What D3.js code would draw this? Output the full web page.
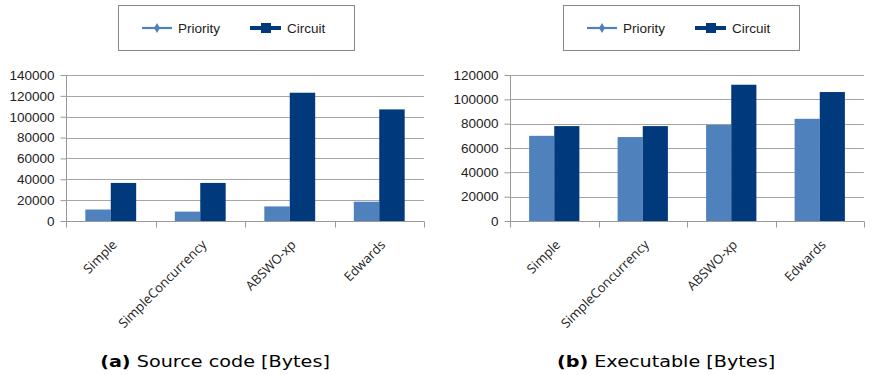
<!DOCTYPE html>
<html><head><meta charset="utf-8">
<script src="https://cdn.jsdelivr.net/npm/d3@7"></script>
<style>body{margin:0;background:#fff}svg{display:block}</style>
</head><body>
<svg id="c" width="872" height="375"></svg>
<script>
const categories = ["Simple", "SimpleConcurrency", "ABSWO-xp", "Edwards"];
const seriesNames = ["Priority", "Circuit"];
const sourcePriority = [11000, 9000, 14000, 18500];
const sourceCircuit = [36500, 36500, 123000, 107000];
const execPriority = [70000, 69000, 79000, 84000];
const execCircuit = [78000, 78000, 112000, 106000];
const sourceTicks = [0, 20000, 40000, 60000, 80000, 100000, 120000, 140000];
const execTicks = [0, 20000, 40000, 60000, 80000, 100000, 120000];
const captionTags = ["(a)", "(b)"];
const captionTexts = [" Source code [Bytes]", " Executable [Bytes]"];

const colors = {Priority: "#4f81bd", Circuit: "#003a7d"};
const svg = d3.select("#c");

function panel(cfg) {
  const g = svg.append("g");
  const y = d3.scaleLinear().domain([0, d3.max(cfg.ticks)]).range([cfg.y0, cfg.y1]);
  const x = d3.scaleBand().domain(categories).range([cfg.x0, cfg.x1]).padding(0);
  const xs = d3.scaleBand().domain(seriesNames).range([0, x.bandwidth()]).paddingInner(0).paddingOuter(0.76);

  // gridlines
  g.append("g").selectAll("line").data(cfg.ticks.filter(t => t > 0)).join("line")
    .attr("x1", cfg.x0).attr("x2", cfg.x1)
    .attr("y1", d => Math.round(y(d)) + 0.5).attr("y2", d => Math.round(y(d)) + 0.5)
    .attr("stroke", "#a6a6a6").attr("stroke-width", 1);

  // y axis
  const ya = g.append("g").attr("transform", `translate(${cfg.x0 + 0.5},0)`)
    .call(d3.axisLeft(y).tickValues(cfg.ticks).tickSize(6).tickPadding(6).tickFormat(d3.format("d")));
  ya.select(".domain").attr("stroke", "#999").attr("d", `M0,${cfg.y1}V${cfg.y0}`);
  ya.selectAll(".tick line").attr("stroke", "#999");
  ya.selectAll(".tick text").attr("font-family", "Liberation Sans, Arial, sans-serif")
    .attr("font-size", 13.5).attr("fill", "#222");

  // bars
  const data = categories.map((c, i) => ({c, vals: [cfg.pri[i], cfg.cir[i]]}));
  const grp = g.append("g").selectAll("g").data(data).join("g")
    .attr("transform", d => `translate(${x(d.c)},0)`);
  grp.selectAll("rect").data(d => seriesNames.map((s, k) => ({s, v: d.vals[k]}))).join("rect")
    .attr("x", d => xs(d.s)).attr("width", xs.bandwidth())
    .attr("y", d => y(d.v)).attr("height", d => y(0) - y(d.v))
    .attr("fill", d => colors[d.s]);

  // x axis
  const xa = g.append("g").attr("transform", `translate(0,${Math.round(cfg.y0) + 0.5})`);
  xa.append("line").attr("x1", cfg.x0).attr("x2", cfg.x1).attr("stroke", "#999");
  const bounds = categories.map(c => x(c)).concat([cfg.x1]);
  xa.selectAll("line.t").data(bounds).join("line").attr("class", "t")
    .attr("x1", d => Math.round(d) + 0.5).attr("x2", d => Math.round(d) + 0.5)
    .attr("y1", 0).attr("y2", 6).attr("stroke", "#999");
  xa.selectAll("text").data(categories).join("text")
    .attr("transform", d => `translate(${x(d) + x.bandwidth() / 2 + 7},${24}) rotate(-45)`)
    .attr("text-anchor", "end")
    .attr("font-family", "Open Sans, sans-serif").attr("font-size", 13)
    .attr("fill", "#222").text(d => d);

  // legend
  const lg = g.append("g").attr("transform", `translate(${cfg.lx},0)`);
  lg.append("rect").attr("x", 0.5).attr("y", 5.5).attr("width", 236).attr("height", 45)
    .attr("fill", "#fff").attr("stroke", "#888");
  lg.append("line").attr("x1", 24).attr("x2", 54).attr("y1", 28).attr("y2", 28)
    .attr("stroke", colors.Priority).attr("stroke-width", 2.2);
  lg.append("path").attr("d", d3.symbol(d3.symbolDiamond, 30)())
    .attr("transform", "translate(39,28)").attr("fill", colors.Priority);
  lg.append("line").attr("x1", 132).attr("x2", 163).attr("y1", 28).attr("y2", 28)
    .attr("stroke", colors.Circuit).attr("stroke-width", 4);
  lg.append("rect").attr("x", 143).attr("y", 23).attr("width", 10).attr("height", 10)
    .attr("fill", colors.Circuit);
  lg.append("text").attr("x", 60).attr("y", 33).text(seriesNames[0])
    .attr("font-family", "Liberation Sans, Arial, sans-serif").attr("font-size", 13.5).attr("fill", "#222");
  lg.append("text").attr("x", 169).attr("y", 33).text(seriesNames[1])
    .attr("font-family", "Liberation Sans, Arial, sans-serif").attr("font-size", 13.5).attr("fill", "#222");

  // caption
  const cap = g.append("text").attr("transform", `translate(${cfg.cx},367) scale(1.2,1)`)
    .attr("text-anchor", "middle")
    .attr("font-family", "DejaVu Sans, sans-serif").attr("font-size", 16).attr("fill", "#000");
  cap.append("tspan").attr("font-weight", "bold").text(cfg.tag);
  cap.append("tspan").text(cfg.cap);
}

panel({x0: 66, x1: 424, y0: 221, y1: 75, ticks: sourceTicks, pri: sourcePriority, cir: sourceCircuit,
  lx: 118, cx: 215, tag: captionTags[0], cap: captionTexts[0]});
panel({x0: 510, x1: 864, y0: 221, y1: 75, ticks: execTicks, pri: execPriority, cir: execCircuit,
  lx: 563, cx: 666, tag: captionTags[1], cap: captionTexts[1]});
</script>
</body></html>
